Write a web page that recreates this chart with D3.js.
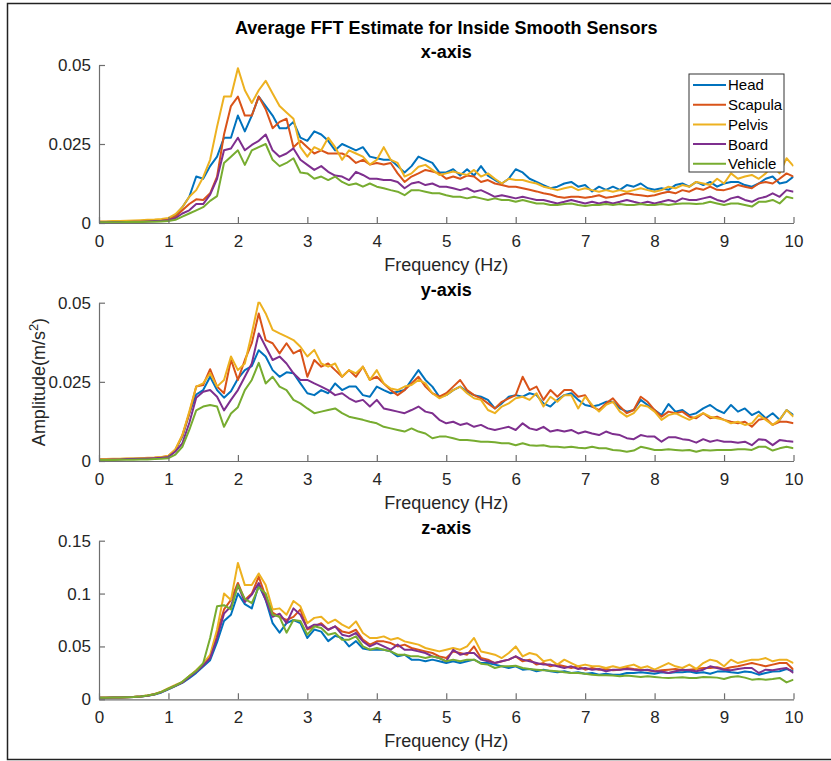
<!DOCTYPE html>
<html>
<head>
<meta charset="utf-8">
<script src="https://cdn.jsdelivr.net/npm/d3@7"></script>
<style>
  body { margin: 0; background: #fff; }
  svg { display: block; font-family: "Liberation Sans", Arial, Helvetica, sans-serif; }
  .tick text { fill: #262626; }
</style>
</head>
<body>
<svg id="chart" width="831" height="761"></svg>
<script>
// frequency grid (Hz)
var freq = [0,0.1,0.2,0.3,0.4,0.5,0.6,0.7,0.8,0.9,
  1,1.1,1.2,1.3,1.4,1.5,1.6,1.7,1.8,1.9,
  2,2.1,2.2,2.3,2.4,2.5,2.6,2.7,2.8,2.9,
  3,3.1,3.2,3.3,3.4,3.5,3.6,3.7,3.8,3.9,
  4,4.1,4.2,4.3,4.4,4.5,4.6,4.7,4.8,4.9,
  5,5.1,5.2,5.3,5.4,5.5,5.6,5.7,5.8,5.9,
  6,6.1,6.2,6.3,6.4,6.5,6.6,6.7,6.8,6.9,
  7,7.1,7.2,7.3,7.4,7.5,7.6,7.7,7.8,7.9,
  8,8.1,8.2,8.3,8.4,8.5,8.6,8.7,8.8,8.9,
  9,9.1,9.2,9.3,9.4,9.5,9.6,9.7,9.8,9.9,10];

var sensors = ["Head", "Scapula", "Pelvis", "Board", "Vehicle"];
var colors = ["#0072BD", "#D95319", "#EDB120", "#7E2F8E", "#77AC30"];

// ---- x-axis ----
var xHead = [.0003,.0003,.0004,.0004,.0005,.0005,.0006,.0007,.0008,.0009,
  .0012,.0025,.005,.0083,.0147,.014,.018,.021,.027,.027,
  .034,.029,.034,.040,.037,.034,.030,.030,.032,.027,
  .026,.029,.028,.026,.023,.025,.024,.023,.024,.021,
  .0205,.020,.020,.018,.016,.018,.021,.020,.019,.016,
  .016,.017,.015,.017,.015,.018,.015,.0136,.0125,.014,
  .017,.016,.014,.013,.012,.011,.0115,.0125,.013,.0115,
  .012,.010,.0115,.0105,.0115,.0105,.012,.0115,.0125,.011,
  .0105,.011,.0105,.012,.0125,.0115,.013,.012,.013,.0115,
  .0125,.013,.013,.012,.0115,.0125,.014,.0147,.0125,.013,.0147];
var xScapula = [.0004,.0004,.0004,.0005,.0005,.0006,.0006,.0007,.0008,.0009,
  .0011,.002,.004,.006,.0075,.0073,.0094,.0147,.028,.037,
  .040,.034,.034,.040,.036,.030,.032,.033,.024,.026,
  .024,.022,.023,.022,.022,.022,.021,.019,.020,.0185,
  .019,.0185,.019,.0157,.013,.0147,.0157,.0168,.0163,.0157,
  .014,.0147,.014,.015,.0147,.013,.0136,.0125,.012,.0115,
  .0115,.011,.0105,.010,.0094,.009,.0083,.008,.0083,.0083,
  .008,.0083,.0088,.008,.0083,.0088,.0094,.009,.0088,.0085,
  .0088,.0094,.0099,.0094,.0104,.0099,.011,.0105,.0115,.0105,
  .0104,.011,.012,.0115,.011,.0125,.013,.0125,.014,.0157,.0147];
var xPelvis = [.0005,.0005,.0006,.0006,.0007,.0008,.0009,.001,.0011,.0013,
  .0016,.0028,.005,.0083,.0104,.0145,.020,.0305,.040,.040,
  .049,.042,.038,.042,.045,.041,.037,.035,.033,.024,
  .021,.024,.023,.027,.024,.020,.023,.022,.021,.0185,
  .020,.024,.020,.019,.0147,.0157,.0178,.0184,.0168,.0152,
  .0157,.0163,.0157,.0152,.0168,.0147,.0157,.014,.0125,.014,
  .0136,.0136,.013,.0125,.0115,.011,.0104,.011,.0115,.0104,
  .011,.0104,.0099,.0104,.0099,.0104,.0099,.0104,.011,.0104,
  .0099,.0104,.0115,.011,.012,.0115,.013,.0125,.012,.014,
  .0125,.0157,.014,.0147,.0152,.014,.0157,.018,.0157,.0205,.018];
var xBoard = [.0002,.0002,.0003,.0003,.0003,.0004,.0004,.0005,.0006,.0007,
  .0009,.0015,.003,.004,.006,.006,.009,.014,.023,.0236,
  .027,.023,.0247,.026,.028,.023,.021,.022,.0236,.020,
  .0184,.0168,.018,.0162,.015,.0147,.0136,.0162,.0152,.014,
  .014,.0136,.0136,.013,.011,.0125,.013,.012,.0125,.0115,
  .0115,.011,.0104,.011,.0099,.0104,.0094,.0083,.0088,.0083,
  .0078,.0083,.0078,.0073,.0073,.0067,.0062,.0067,.0073,.0067,
  .0062,.0067,.0062,.0067,.0062,.0067,.0073,.0067,.0062,.0067,
  .0062,.0067,.0073,.0067,.0078,.0073,.0073,.0078,.0083,.0073,
  .0067,.0078,.0083,.0073,.0067,.0078,.0083,.0094,.0083,.0104,.0099];
var xVehicle = [.0002,.0002,.0002,.0002,.0003,.0003,.0003,.0004,.0004,.0005,
  .0006,.001,.002,.003,.004,.005,.007,.0085,.019,.021,
  .023,.0184,.023,.024,.025,.020,.018,.019,.0205,.016,
  .0157,.014,.0147,.0136,.0147,.013,.012,.0125,.0115,.0125,
  .0115,.011,.0104,.0099,.0088,.0104,.0104,.0099,.0094,.0094,
  .0088,.0083,.0083,.0078,.0083,.0078,.0073,.0078,.0073,.0073,
  .0067,.0073,.0067,.0062,.0062,.0057,.0057,.006,.0062,.0057,
  .0054,.0057,.0057,.006,.0057,.006,.0057,.0057,.006,.0057,
  .0057,.006,.0057,.006,.0062,.0062,.006,.0062,.0067,.0062,
  .0057,.0062,.0062,.0057,.0052,.0067,.0067,.0073,.0062,.0083,.0078];

// ---- y-axis ----
var yHead = [.0005,.0005,.0005,.0006,.0006,.0007,.0007,.0008,.0009,.0011,
  .0014,.0035,.0077,.015,.021,.0224,.0266,.0224,.020,.022,
  .026,.0287,.030,.035,.033,.0287,.0266,.028,.0277,.0245,
  .0214,.0208,.0224,.0214,.0245,.0224,.0235,.0235,.0208,.0203,
  .0235,.0224,.0214,.0219,.0224,.0256,.0287,.0256,.0235,.0203,
  .0208,.0224,.0235,.0219,.0208,.0203,.0193,.0166,.0182,.0203,
  .0208,.0203,.0214,.0208,.0182,.0172,.0193,.0208,.0214,.0193,
  .0177,.0172,.0177,.0187,.0187,.0166,.0156,.0161,.0193,.0177,
  .0161,.0145,.018,.0156,.0161,.0145,.0151,.0166,.0177,.0161,
  .0151,.0177,.0156,.0166,.0145,.0156,.0135,.0151,.013,.0161,.0145];
var yScapula = [.0005,.0005,.0006,.0006,.0007,.0007,.0008,.0009,.001,.0012,
  .0016,.0035,.008,.015,.0235,.024,.029,.0235,.0214,.032,
  .0256,.0319,.0372,.0466,.0382,.0372,.034,.0372,.034,.0351,
  .0266,.0319,.0298,.0308,.0287,.0266,.0287,.0266,.0298,.0256,
  .0266,.0245,.0224,.0208,.0224,.0245,.0266,.0235,.0214,.0203,
  .0214,.0235,.0256,.0224,.0208,.0198,.0182,.0166,.0187,.0198,
  .0208,.0266,.0224,.0235,.0193,.0224,.0203,.0224,.0224,.0203,
  .0208,.0172,.0161,.0182,.0198,.0172,.0151,.0161,.0203,.0187,
  .0161,.014,.0156,.0151,.0156,.014,.0135,.0151,.0135,.014,
  .013,.0124,.0119,.0124,.0108,.013,.0135,.0114,.0124,.0124,.0119];
var yPelvis = [.0006,.0006,.0007,.0007,.0008,.0008,.0009,.001,.0011,.0013,
  .0017,.0037,.0082,.0156,.0235,.0245,.0277,.0235,.0256,.033,
  .0287,.0308,.0403,.0505,.0466,.0414,.0403,.0393,.0382,.0361,
  .033,.0351,.0308,.0298,.0308,.0266,.0287,.0277,.0298,.0256,
  .0287,.0245,.0229,.0224,.0235,.024,.0256,.0245,.0214,.0198,
  .0208,.0224,.0235,.0214,.0198,.0193,.0161,.0151,.0172,.0182,
  .0198,.0203,.0193,.0214,.0172,.0203,.0187,.0208,.0208,.0166,
  .0203,.0177,.0156,.0177,.0187,.0156,.014,.0151,.0177,.0172,
  .0156,.013,.0145,.0151,.014,.013,.014,.0151,.014,.0135,
  .013,.0119,.0124,.0114,.0119,.0145,.013,.0114,.013,.0161,.014];
var yBoard = [.0004,.0004,.0005,.0005,.0006,.0006,.0007,.0008,.0009,.001,
  .0013,.003,.0056,.012,.020,.0219,.0224,.0203,.016,.0193,
  .0224,.0266,.0308,.0403,.0361,.0319,.033,.0308,.0277,.0256,
  .0256,.0245,.0235,.0224,.0208,.0214,.0198,.0187,.0193,.0172,
  .0193,.0166,.0161,.0156,.0151,.0161,.0172,.0156,.0151,.013,
  .0119,.0124,.0114,.0119,.0108,.0114,.0103,.0098,.0103,.0108,
  .0098,.0119,.0103,.0098,.0108,.0093,.0098,.0093,.0098,.0087,
  .0093,.0087,.0082,.0093,.0085,.0082,.0072,.0069,.0082,.0077,
  .0077,.0061,.0075,.0075,.0069,.0066,.0058,.0069,.0061,.0066,
  .0061,.0061,.0058,.0061,.005,.0069,.0066,.005,.0066,.0063,.0061];
var yVehicle = [.0003,.0003,.0003,.0004,.0004,.0004,.0005,.0005,.0006,.0007,
  .0009,.002,.0045,.0098,.016,.0172,.0177,.0172,.0108,.015,
  .017,.0224,.0256,.031,.0245,.0266,.0235,.0224,.0193,.0182,
  .0166,.0151,.0156,.0161,.0166,.0151,.014,.0135,.013,.0124,
  .0119,.0108,.0103,.0098,.0093,.0103,.0093,.0087,.0072,.0077,
  .0077,.0072,.0066,.0066,.0064,.0061,.0061,.0059,.0056,.0056,
  .005,.0056,.005,.0048,.005,.0045,.0045,.0043,.0045,.0042,
  .004,.0045,.004,.004,.0035,.0033,.0029,.0033,.0045,.004,
  .0035,.0035,.0037,.0035,.0033,.0035,.0029,.0035,.0033,.0035,
  .0035,.0035,.0037,.0037,.0035,.0045,.0045,.0033,.004,.0045,.004];

// ---- z-axis ----
var zHead = [.0015,.0015,.0016,.0017,.0019,.0022,.0026,.0033,.0045,.0065,
  .0095,.0125,.0155,.020,.025,.031,.037,.054,.074,.080,
  .100,.090,.086,.108,.094,.072,.063,.072,.075,.072,
  .058,.066,.064,.055,.060,.058,.050,.055,.048,.0469,
  .0469,.0469,.0453,.0406,.0422,.0375,.0375,.0359,.0375,.0359,
  .0343,.0359,.0343,.0359,.0375,.0343,.0343,.0328,.0312,.0296,
  .0312,.028,.0287,.0265,.028,.0265,.0255,.0265,.0249,.0255,
  .0242,.0249,.0233,.0242,.0233,.0233,.0249,.0249,.0255,.0249,
  .0242,.0255,.0249,.0255,.0255,.0262,.0249,.0255,.0242,.0262,
  .0265,.0255,.0249,.0262,.0255,.0233,.0249,.0262,.0265,.0287,.0265];
var zScapula = [.0015,.0015,.0016,.0017,.0019,.0022,.0027,.0035,.0048,.007,
  .010,.013,.016,.0217,.027,.033,.040,.063,.085,.094,
  .110,.094,.100,.116,.097,.082,.078,.075,.078,.085,
  .066,.069,.072,.0658,.069,.0642,.0627,.0658,.0564,.0517,
  .0548,.0548,.0532,.050,.0517,.0485,.0469,.0453,.0438,.0406,
  .039,.0453,.0438,.0422,.050,.039,.0375,.0343,.0359,.0375,
  .0406,.0359,.0375,.0328,.0343,.0312,.0328,.0312,.0296,.0312,
  .028,.0296,.028,.0287,.0274,.028,.0296,.0287,.028,.0274,
  .0265,.0274,.028,.0287,.0274,.028,.0287,.0296,.0296,.0303,
  .0287,.0303,.0312,.0328,.0343,.0328,.0312,.0328,.0343,.0343,.028];
var zPelvis = [.0016,.0016,.0017,.0018,.002,.0023,.0028,.0036,.005,.0073,
  .0105,.0135,.0165,.022,.0275,.034,.042,.066,.100,.094,
  .129,.108,.108,.119,.108,.085,.086,.080,.093,.088,
  .072,.077,.078,.072,.0753,.0706,.0674,.0737,.0627,.058,
  .058,.0595,.0564,.058,.0548,.0532,.0517,.0485,.0469,.0453,
  .0469,.0485,.0469,.050,.058,.0453,.0438,.0422,.039,.0438,
  .050,.0406,.0438,.0422,.0359,.0375,.0328,.0375,.0343,.0312,
  .0328,.0312,.0312,.0296,.0312,.0296,.0312,.0328,.0296,.0312,
  .028,.0312,.0343,.0312,.0296,.0328,.0287,.0343,.0375,.0359,
  .0312,.0375,.0343,.0359,.0375,.0375,.039,.0359,.0375,.0375,.0343];
var zBoard = [.0015,.0015,.0016,.0017,.0019,.0022,.0027,.0034,.0047,.0068,
  .0098,.0128,.016,.021,.026,.032,.039,.058,.081,.088,
  .108,.092,.099,.110,.094,.078,.081,.072,.086,.080,
  .067,.0706,.0706,.0658,.069,.0611,.0595,.0627,.0548,.050,
  .0532,.050,.0469,.0517,.0469,.0469,.0453,.0438,.0406,.039,
  .0359,.0469,.0422,.0438,.0438,.0375,.0359,.0343,.0359,.0375,
  .0406,.0375,.0359,.0343,.0328,.0328,.0312,.0296,.0312,.0287,
  .0296,.028,.0287,.0265,.028,.028,.0287,.028,.0274,.028,
  .0265,.0262,.0249,.0265,.028,.0274,.0265,.028,.0312,.0296,
  .028,.0274,.0287,.0296,.0296,.0249,.028,.0274,.0287,.0296,.0249];
var zVehicle = [.0015,.0015,.0016,.0017,.0019,.0022,.0027,.0035,.0048,.007,
  .010,.013,.0165,.022,.027,.034,.058,.088,.089,.085,
  .108,.095,.091,.106,.100,.080,.078,.063,.075,.074,
  .0611,.069,.0674,.0611,.0627,.0564,.0564,.0595,.050,.0469,
  .0485,.0469,.0453,.0422,.0422,.0406,.0406,.039,.0406,.039,
  .0359,.0375,.0359,.0375,.0375,.0337,.0328,.0296,.0312,.0312,
  .0318,.0296,.0287,.028,.0274,.0271,.0265,.0255,.0249,.0249,
  .0242,.0233,.0227,.0227,.0224,.0217,.0224,.0217,.0211,.0217,
  .0211,.0205,.0202,.0205,.0208,.0202,.0202,.0211,.0208,.0205,
  .0192,.0211,.0217,.0205,.0186,.0192,.0186,.0192,.0202,.016,.0186];

var xTicks = [0,1,2,3,4,5,6,7,8,9,10];

var panels = [
  { title: "x-axis", yMax: 0.05, yTicks: [0, 0.025, 0.05], top: 65, bottom: 223,
    series: [xHead, xScapula, xPelvis, xBoard, xVehicle] },
  { title: "y-axis", yMax: 0.05, yTicks: [0, 0.025, 0.05], top: 302.7, bottom: 461,
    series: [yHead, yScapula, yPelvis, yBoard, yVehicle] },
  { title: "z-axis", yMax: 0.15, yTicks: [0, 0.05, 0.1, 0.15], top: 540.7, bottom: 699.3,
    series: [zHead, zScapula, zPelvis, zBoard, zVehicle] }
];

var left = 99, right = 793.5;
var svg = d3.select("#chart");

svg.append("rect").attr("width", 831).attr("height", 761).attr("fill", "#fff");
// figure frame
svg.append("rect")
    .attr("x", 7.5).attr("y", 3.5).attr("width", 840).attr("height", 756)
    .attr("fill", "none").attr("stroke", "#222").attr("stroke-width", 1.5);

svg.append("text")
    .attr("x", (left + right) / 2).attr("y", 34)
    .attr("text-anchor", "middle")
    .style("font-size", "18px").style("font-weight", "bold").attr("fill", "#000")
    .text("Average FFT Estimate for Inside Smooth Sensors");

var xScale = d3.scaleLinear().domain([0, 10]).range([left, right]);

panels.forEach(function(p, pi) {
    var yScale = d3.scaleLinear().domain([0, p.yMax]).range([p.bottom, p.top]);
    var g = svg.append("g");

    var clipId = "clip" + pi;
    g.append("clipPath").attr("id", clipId)
        .append("rect")
        .attr("x", left).attr("y", p.top - 1)
        .attr("width", right - left).attr("height", p.bottom - p.top + 1);

    var line = d3.line()
        .x(function(d, i) { return xScale(freq[i]); })
        .y(function(d) { return yScale(d); });

    var lines = g.append("g").attr("clip-path", "url(#" + clipId + ")");
    p.series.forEach(function(vals, si) {
        lines.append("path")
            .datum(vals)
            .attr("d", line)
            .attr("fill", "none")
            .attr("stroke", colors[si])
            .attr("stroke-width", 2)
            .attr("stroke-linejoin", "round");
    });

    // bottom axis, inward ticks
    var xAxis = d3.axisBottom(xScale).tickValues(xTicks).tickSize(-6).tickSizeOuter(0).tickPadding(12);
    var xg = g.append("g")
        .attr("transform", "translate(0," + p.bottom + ")")
        .call(xAxis);
    xg.selectAll("text").style("font-size", "17px");

    // left axis, inward ticks
    var yAxis = d3.axisLeft(yScale).tickValues(p.yTicks).tickSize(-6).tickSizeOuter(0).tickPadding(8)
        .tickFormat(function(d) { return d === 0 ? "0" : String(d); });
    var yg = g.append("g")
        .attr("transform", "translate(" + left + ",0)")
        .call(yAxis);
    yg.selectAll("text").style("font-size", "17px");

    g.selectAll(".domain, .tick line").attr("stroke", "#6e6e6e").attr("stroke-width", 1.2);
    g.selectAll(".tick text").attr("font-family", null);

    // subplot title
    g.append("text")
        .attr("x", (left + right) / 2).attr("y", p.top - 7)
        .attr("text-anchor", "middle")
        .style("font-size", "18px").style("font-weight", "bold").attr("fill", "#000")
        .text(p.title);

    // x label
    g.append("text")
        .attr("x", (left + right) / 2).attr("y", p.bottom + 48)
        .attr("text-anchor", "middle")
        .style("font-size", "18px").attr("fill", "#262626")
        .text("Frequency (Hz)");
});

// y label on middle panel
var yl = svg.append("text")
    .attr("transform", "translate(45,382) rotate(-90)")
    .attr("text-anchor", "middle")
    .style("font-size", "18px").attr("fill", "#262626");
yl.append("tspan").text("Amplitude(m/s");
yl.append("tspan").attr("dy", -7).style("font-size", "13px").text("2");
yl.append("tspan").attr("dy", 7).text(")");

// legend in first panel
var legend = svg.append("g").attr("transform", "translate(689,74)");
legend.append("rect")
    .attr("width", 95).attr("height", 98)
    .attr("fill", "#fff").attr("stroke", "#333").attr("stroke-width", 1);
sensors.forEach(function(name, i) {
    var yy = 11 + i * 19.7;
    legend.append("line")
        .attr("x1", 4).attr("x2", 37).attr("y1", yy).attr("y2", yy)
        .attr("stroke", colors[i]).attr("stroke-width", 2);
    legend.append("text")
        .attr("x", 39).attr("y", yy).attr("dy", "0.36em")
        .style("font-size", "15px").attr("fill", "#000")
        .text(name);
});
</script>
</body>
</html>
